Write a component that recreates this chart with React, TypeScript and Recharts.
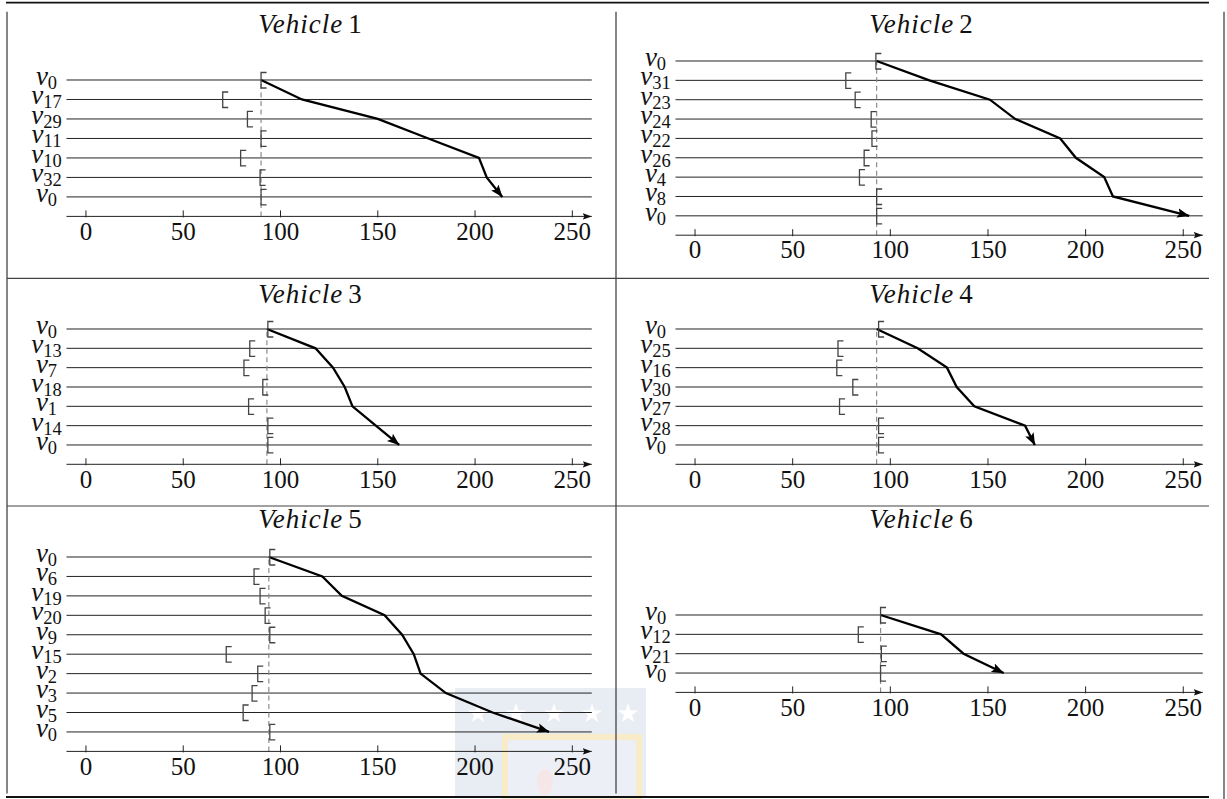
import React from 'react'
import { ComposedChart, Line, Scatter, XAxis, YAxis, ReferenceLine } from 'recharts'

const FONT = "'Liberation Serif', serif"

// x axis (time)
const timeTicks = [0, 50, 100, 150, 200, 250]
const timeDomain: [number, number] = [-10, 260]

// route of every vehicle: node visited on each row (v_i)
const v1Nodes = [0, 17, 29, 11, 10, 32, 0]
const v2Nodes = [0, 31, 23, 24, 22, 26, 4, 8, 0]
const v3Nodes = [0, 13, 7, 18, 1, 14, 0]
const v4Nodes = [0, 25, 16, 30, 27, 28, 0]
const v5Nodes = [0, 6, 19, 20, 9, 15, 2, 3, 5, 0]
const v6Nodes = [0, 12, 21, 0]

// service start time on each row (the black path)
const v1Times = [90, 111, 150, 176, 202, 206, 214]
const v2Times = [93, 120, 151, 164, 187, 195, 209.5, 214, 253]
const v3Times = [93, 118, 127, 133, 137, 149, 161]
const v4Times = [93, 114, 129, 134, 143, 169, 174]
const v5Times = [94, 121.5, 131.5, 153.5, 162.5, 168.5, 172, 185, 209, 238]
const v6Times = [95, 126, 137.5, 158]

// time window opening on each row (the brackets)
const v1Windows = [90, 70.3, 83, 90, 79.5, 89.5, 90]
const v2Windows = [92.6, 77.2, 82, 90.2, 90.6, 86.6, 84.2, 93, 93]
const v3Windows = [93.5, 84.2, 81.2, 90.9, 83.6, 93.5, 93.5]
const v4Windows = [94, 73.2, 72.6, 80.8, 74, 94, 94]
const v5Windows = [94.5, 86.4, 89.5, 92.1, 94.5, 72.1, 88.3, 85.4, 80.8, 94.5]
const v6Windows = [95, 83.6, 95.4, 95]

const COLS = [
  { plotLeft: 66.5, plotRight: 591.8, center: 310 },
  { plotLeft: 675, plotRight: 1202.3, center: 921 },
]

const panels = [
  { id: 1, col: 0, row0Y: 80.3, axisY: 216.7, titleY: 33.3, nodes: v1Nodes, times: v1Times, windows: v1Windows },
  { id: 2, col: 1, row0Y: 61.2, axisY: 235.4, titleY: 33.3, nodes: v2Nodes, times: v2Times, windows: v2Windows },
  { id: 3, col: 0, row0Y: 328.7, axisY: 464, titleY: 303.3, nodes: v3Nodes, times: v3Times, windows: v3Windows },
  { id: 4, col: 1, row0Y: 328.7, axisY: 464, titleY: 303.3, nodes: v4Nodes, times: v4Times, windows: v4Windows },
  { id: 5, col: 0, row0Y: 557.3, axisY: 751.7, titleY: 528.3, nodes: v5Nodes, times: v5Times, windows: v5Windows },
  { id: 6, col: 1, row0Y: 615.3, axisY: 692.7, titleY: 528.3, nodes: v6Nodes, times: v6Times, windows: v6Windows },
]

const Bracket = (props: any) => {
  const { cx, cy } = props
  if (cx == null || cy == null) return null
  return (
    <path
      d={`M${cx + 5.5},${cy - 7.5}H${cx}V${cy + 8}H${cx + 5.5}`}
      fill="none"
      stroke="#444"
      strokeWidth={1.3}
    />
  )
}

const TimeTick = (props: any) => {
  const { x, y, payload } = props
  return (
    <g>
      <line x1={x} x2={x} y1={y - 6} y2={y + 1} stroke="#222" strokeWidth={1} />
      <text x={x} y={y + 23.3} textAnchor="middle" style={{ fontFamily: FONT }} fontSize={25} fill="#111">
        {payload.value}
      </text>
    </g>
  )
}

function Panel({ p }: { p: (typeof panels)[number] }) {
  const col = COLS[p.col]
  const n = p.nodes.length
  const chartLeft = col.plotLeft - 66.5
  const width = col.plotRight - chartLeft + 18
  const height = 30 + (p.axisY - p.row0Y) + 45
  const rows = p.nodes.map((_, i) => i)
  const pathData = p.times.map((t, i) => ({ x: t, y: i }))
  const winData = p.windows.map((t, i) => ({ x: t, y: i }))

  const RowTick = (tp: any) => (
    <text x={tp.x - 20} y={tp.y + 5} textAnchor="middle" style={{ fontFamily: FONT }} fill="#111">
      <tspan fontStyle="italic" fontSize={27}>v</tspan>
      <tspan fontSize={18.5} dy={4}>{p.nodes[tp.payload.value]}</tspan>
    </text>
  )

  return (
    <div style={{ position: 'absolute', left: chartLeft, top: p.row0Y - 30 }}>
      <ComposedChart width={width} height={height} margin={{ top: 30, right: 18, left: 6.5, bottom: 5 }}>
        <XAxis
          type="number"
          dataKey="x"
          domain={timeDomain}
          ticks={timeTicks}
          interval={0}
          height={40}
          tickSize={0}
          tickMargin={0}
          tickLine={false}
          axisLine={{ stroke: '#222', strokeWidth: 1, markerEnd: 'url(#axisHead)' }}
          tick={<TimeTick />}
        />
        <YAxis
          type="number"
          dataKey="y"
          domain={[0, n]}
          ticks={rows}
          reversed
          interval={0}
          width={60}
          tickSize={0}
          tickMargin={0}
          tickLine={false}
          axisLine={false}
          tick={RowTick}
        />
        {rows.map((r) => (
          <ReferenceLine key={r} y={r} stroke="#222" strokeWidth={1} />
        ))}
        <ReferenceLine x={p.times[0]} stroke="#8c8c8c" strokeWidth={1.2} strokeDasharray="5 3.5" />
        <Scatter data={winData} dataKey="y" shape={Bracket} isAnimationActive={false} />
        <Line
          data={pathData}
          dataKey="y"
          type="linear"
          stroke="#000"
          strokeWidth={2.3}
          dot={false}
          activeDot={false}
          isAnimationActive={false}
          markerEnd="url(#pathHead)"
        />
      </ComposedChart>
    </div>
  )
}

export default function App() {
  return (
    <div style={{ position: 'absolute', left: 0, top: 0, width: 1227, height: 799, background: '#fff', overflow: 'hidden' }}>
      <svg width={1227} height={799} style={{ position: 'absolute', left: 0, top: 0 }}>
        <defs>
          <marker id="pathHead" markerUnits="userSpaceOnUse" markerWidth={14} markerHeight={11} refX={12} refY={5.5} orient="auto">
            <path d="M0,0.8 L12.5,5.5 L0,10.2 L2.5,5.5 Z" fill="#000" />
          </marker>
          <marker id="axisHead" markerUnits="userSpaceOnUse" markerWidth={10} markerHeight={8} refX={9} refY={4} orient="auto">
            <path d="M0,0.8 L9,4 L0,7.2 L1.5,4 Z" fill="#111" />
          </marker>
        </defs>
        {/* faded logo watermark */}
        <rect x={455} y={688} width={191} height={109} fill="#e8ecf3" />
        {[478, 516, 554, 592, 628].map((sx) => (
          <text key={sx} x={sx} y={722} textAnchor="middle" fontSize={26} fill="#fff" fontFamily="DejaVu Sans">★</text>
        ))}
        <rect x={505} y={737} width={134} height={62} fill="#eceff5" stroke="#f8ecc8" strokeWidth={6} />
        <ellipse cx={545} cy={782} rx={8} ry={13} fill="#f6e6e8" />
        {/* table rules */}
        <line x1={6} x2={1209} y1={2.6} y2={2.6} stroke="#111" strokeWidth={1.8} />
        <line x1={6} x2={1209} y1={797} y2={797} stroke="#111" strokeWidth={1.8} />
        <line x1={7} x2={1209} y1={278.3} y2={278.3} stroke="#444" strokeWidth={1.2} />
        <line x1={7} x2={1209} y1={506} y2={506} stroke="#444" strokeWidth={1.2} />
        <line x1={7} x2={7} y1={11.7} y2={793.5} stroke="#444" strokeWidth={1.3} />
        <line x1={616} x2={616} y1={11.7} y2={793.5} stroke="#444" strokeWidth={1.3} />
        <line x1={1224} x2={1224} y1={11.7} y2={799} stroke="#444" strokeWidth={1.3} />
        {panels.map((p) => (
          <text key={p.id} x={COLS[p.col].center} y={p.titleY} textAnchor="middle" style={{ fontFamily: FONT }} fontSize={27} fill="#111">
            <tspan fontStyle="italic" letterSpacing={1}>Vehicle</tspan>
            <tspan dx={5}>{p.id}</tspan>
          </text>
        ))}
      </svg>
      {panels.map((p) => (
        <Panel key={p.id} p={p} />
      ))}
    </div>
  )
}
